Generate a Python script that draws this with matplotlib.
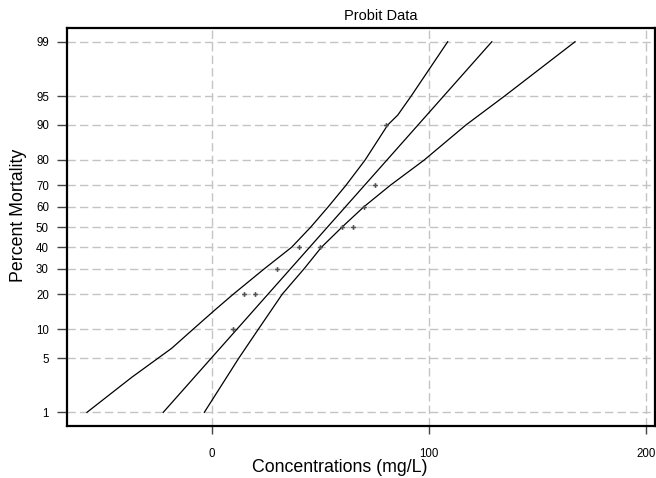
import matplotlib
matplotlib.use('Agg')
import matplotlib.pyplot as plt
import numpy as np
from statistics import NormalDist

# observed points
conc = [10, 15, 20, 30, 40, 50, 60, 65, 70, 75, 80]
mortality = [10, 20, 20, 30, 40, 40, 50, 50, 60, 70, 90]

# fitted probit line and its confidence limits
fit_x = [-22.3, 53.3, 128.9]
fit_y = [1, 50, 99]
lower_x = [-57.4, -36.8, -18.4, -8.5, 1.5, 10.0, 24.2, 36.8, 45.6, 53.6, 61.8, 70.6, 81.0, 85.6, 91.8, 108.6]
lower_y = [1, 2.96, 6.4, 10, 14.9, 20, 30, 40, 50, 60, 70, 80, 90, 92, 95, 99]
upper_x = [-3.4, 12.5, 21.5, 32.5, 42.5, 50.5, 60.0, 70.0, 82.2, 97.8, 117.0, 134.8, 167.2]
upper_y = [1, 5, 10, 20, 30, 40, 50, 60, 70, 80, 90, 95, 99]

y_ticks = [1, 5, 10, 20, 30, 40, 50, 60, 70, 80, 90, 95, 99]
x_ticks = [0, 100, 200]

nd = NormalDist()
_ppf = np.vectorize(nd.inv_cdf, otypes=[float])
_cdf = np.vectorize(nd.cdf, otypes=[float])


def forward(p):
    p = np.clip(np.asarray(p, dtype=float) / 100.0, 1e-9, 1 - 1e-9)
    return _ppf(p)


def inverse(z):
    return 100.0 * _cdf(np.asarray(z, dtype=float))


plt.rcParams['font.family'] = ['Liberation Sans', 'DejaVu Sans']

fig = plt.figure(figsize=(6.56, 4.78), dpi=100)
ax = fig.add_axes([0.1021, 0.1094, 0.8964, 0.8326])
ax.set_yscale('function', functions=(forward, inverse))

ax.grid(True, color='#c4c4c4', linestyle=(0, (6, 3)), linewidth=1.0)
ax.set_axisbelow(True)

ax.plot(lower_x, lower_y, color='black', linewidth=0.9)
ax.plot(fit_x, fit_y, color='black', linewidth=0.9)
ax.plot(upper_x, upper_y, color='black', linewidth=0.9)
ax.plot(conc, mortality, linestyle='none', marker='P', markersize=3.4,
        color='#505050', markeredgewidth=0)

ax.set_xlim(-66.6, 204)
ax.set_ylim(0.631, 99.383)
ax.set_xticks(x_ticks)
ax.set_yticks(y_ticks)
ax.set_yticklabels([str(t) for t in y_ticks])
ax.minorticks_off()
ax.tick_params(axis='y', length=7, width=1, color='#444444', pad=6, labelsize=8.3)
ax.tick_params(axis='x', length=6, width=1, color='#444444', pad=10, labelsize=8.3)
for s in ax.spines.values():
    s.set_linewidth(1.6)
    s.set_color('black')

fig.text(340 / 656, 1 - 468 / 478, 'Concentrations (mg/L)', ha='center', va='center', fontsize=12.8)
fig.text(18.5 / 656, 1 - 215 / 478, 'Percent Mortality', ha='center', va='center',
         rotation=90, fontsize=12.8)
fig.text(381 / 656, 1 - 15.7 / 478, 'Probit Data', ha='center', va='center', fontsize=10.5)

fig.savefig('out.png', dpi=100)
